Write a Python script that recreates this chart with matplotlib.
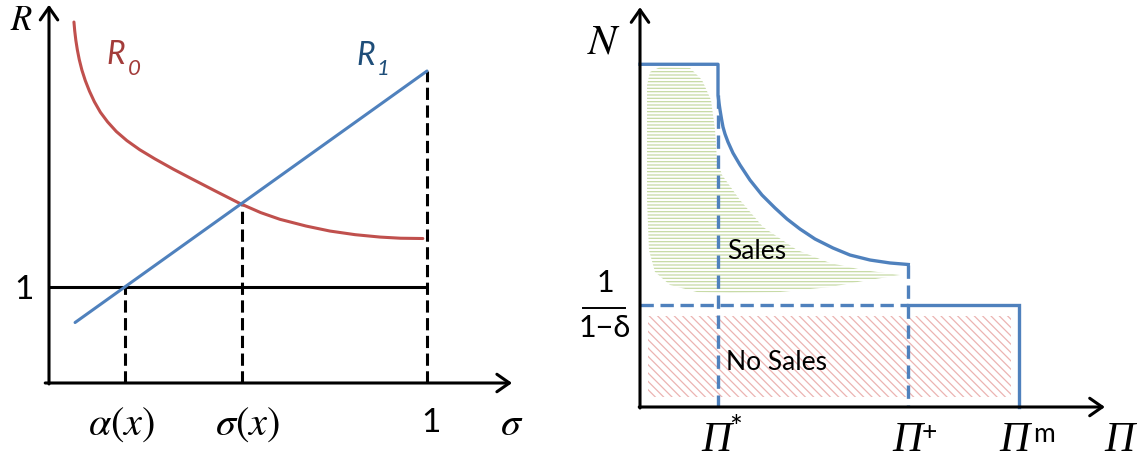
import matplotlib
matplotlib.use("Agg")
import matplotlib.pyplot as plt

plt.rcParams['mathtext.fontset'] = 'stix'
plt.rcParams['hatch.linewidth'] = 0.9

# ---- left panel data (sigma on x, R on y) ----
alpha_x = 0.20
sigma_x = 0.51
sigma_one = 1.0
r1_sigma = [0.069, 1.0]
r1_vals = [0.63, 3.25]
r0_sigma = [0.066, 0.068, 0.071, 0.075, 0.080, 0.087, 0.096, 0.107, 0.120,
            0.136, 0.155, 0.178, 0.206, 0.24, 0.28, 0.33, 0.381, 0.44,
            0.505, 0.56, 0.611, 0.68, 0.743, 0.81, 0.876, 0.93, 0.989]
r0_vals = [3.76, 3.67, 3.57, 3.47, 3.37, 3.26, 3.15, 3.04, 2.93,
           2.82, 2.72, 2.62, 2.525, 2.43, 2.335, 2.225, 2.12, 2.0,
           1.87, 1.775, 1.705, 1.635, 1.583, 1.545, 1.52, 1.508, 1.505]
r_at_sigma = 1.87

# ---- right panel data (Pi on x, N on y) ----
pi_star = 1.0
pi_plus = 3.44
pi_m = 4.86
n_top = 3.36
n_floor = 1.0
n_curve_pi = [1.0, 1.0, 1.013, 1.026, 1.045, 1.064, 1.090, 1.128, 1.192,
              1.282, 1.410, 1.564, 1.731, 1.885, 2.051, 2.244, 2.474, 2.692,
              2.949, 3.205, 3.44]
n_curve_n = [3.36, 3.059, 2.980, 2.912, 2.824, 2.745, 2.676, 2.598, 2.490,
             2.373, 2.225, 2.078, 1.951, 1.843, 1.745, 1.647, 1.559, 1.490,
             1.441, 1.412, 1.397]
sales_pi = [0.128, 0.256, 0.641, 0.795, 0.910, 0.962, 0.987, 1.051, 1.282,
            1.577, 2.013, 2.436, 2.859, 3.333, 2.859, 2.436, 1.795, 1.154,
            0.731, 0.385, 0.192, 0.115, 0.090, 0.090, 0.090]
sales_n = [3.284, 3.333, 3.324, 3.206, 3.010, 2.716, 2.422, 2.275, 2.029,
           1.765, 1.539, 1.412, 1.343, 1.294, 1.235, 1.176, 1.127, 1.118,
           1.127, 1.196, 1.324, 1.539, 2.029, 2.814, 3.157]
nosales_pi = [0.10, 4.76]
nosales_n = [0.10, 0.89]
pi_sups = ['*', '+', 'm']

BLUE = '#4f81bd'
RED = '#c0504d'

fig = plt.figure(figsize=(11.4, 4.62), dpi=100)

arrow = dict(arrowstyle='->,head_length=0.5,head_width=0.35', lw=2.2,
             color='black', shrinkA=0, shrinkB=0, mutation_scale=18)

# ================= left =================
ax1 = fig.add_axes([0, 0, 560 / 1140, 1])
ax1.set_xlim(-49 / 378, 511 / 378)
ax1.set_ylim(-79 / 96, 383 / 96)
ax1.axis('off')

ax1.annotate('', xy=(0, 3.94), xytext=(0, -0.01), arrowprops=arrow)
ax1.annotate('', xy=(1.225, 0), xytext=(-0.01, 0), arrowprops=arrow)

ax1.plot([0, sigma_one], [1, 1], color='black', lw=2.2, solid_capstyle='butt')
for xv, top in [(alpha_x, 1.0), (sigma_x, r_at_sigma), (sigma_one, r1_vals[1])]:
    ax1.plot([xv, xv], [0, top], color='black', lw=2.2, dashes=(4, 1.8))

ax1.plot(r0_sigma, r0_vals, color=RED, lw=2.2, solid_capstyle='round',
         solid_joinstyle='round')
ax1.plot(r1_sigma, r1_vals, color=BLUE, lw=2.2, solid_capstyle='round')

ax1.text(-0.074, 3.78, r'$R$', fontsize=25, ha='center', va='center')
ax1.text(0.177, 3.42, 'R', fontsize=23, style='italic', family='Lato',
         color='#a33c3a', ha='center', va='center')
ax1.text(0.226, 3.27, '0', fontsize=16, style='italic', family='Lato',
         color='#a33c3a', ha='center', va='center')
ax1.text(0.839, 3.41, 'R', fontsize=23, style='italic', family='Lato',
         color='#1f4e79', ha='center', va='center')
ax1.text(0.885, 3.27, '1', fontsize=16, style='italic', family='Lato',
         color='#1f4e79', ha='center', va='center')

ax1.text(-0.066, 0.97, '1', fontsize=24, family='Lato', ha='center', va='center')
ax1.text(alpha_x - 0.007, -0.43, r'$\alpha(x)$', fontsize=29, ha='center', va='center')
ax1.text(sigma_x + 0.014, -0.43, r'$\sigma(x)$', fontsize=29, ha='center', va='center')
ax1.text(sigma_one + 0.011, -0.42, '1', fontsize=24, family='Lato', ha='center', va='center')
ax1.text(1.225, -0.43, r'$\sigma$', fontsize=29, ha='center', va='center')

# ================= right =================
ax2 = fig.add_axes([560 / 1140, 0, 580 / 1140, 1])
ax2.set_xlim(-80 / 78, 500 / 78)
ax2.set_ylim(-55 / 102, 407 / 102)
ax2.axis('off')

ax2.fill(sales_pi, sales_n, facecolor='none', edgecolor='#c6daa4', lw=0,
         hatch='-----')
ax2.fill_between(nosales_pi, nosales_n[0], nosales_n[1], facecolor='none',
                 edgecolor='#ecb4b2', lw=0, hatch='\\\\\\\\')

ax2.annotate('', xy=(0, 3.92), xytext=(0, -0.01), arrowprops=arrow)
ax2.annotate('', xy=(5.96, 0), xytext=(-0.01, 0), arrowprops=arrow)

ax2.plot([0] + n_curve_pi, [n_top] + n_curve_n, color=BLUE, lw=2.4,
         solid_joinstyle='round')
ax2.plot([pi_plus, pi_m, pi_m], [n_floor, n_floor, 0], color=BLUE, lw=2.4,
         solid_joinstyle='miter')
ax2.plot([0, pi_plus], [n_floor, n_floor], color=BLUE, lw=2.4, dashes=(4, 2))
ax2.plot([pi_star, pi_star], [n_curve_n[1], 0], color=BLUE, lw=2.4, dashes=(4, 2))
ax2.plot([pi_plus, pi_plus], [n_curve_n[-1], 0], color=BLUE, lw=2.4, dashes=(4, 2))

ax2.text(1.5, 1.52, 'Sales', fontsize=19, family='Lato', ha='center', va='center')
ax2.text(1.756, 0.44, 'No Sales', fontsize=19, family='Lato', ha='center', va='center')

ax2.text(-0.46, 3.58, r'$N$', fontsize=31, ha='center', va='center')
ax2.text(-0.449, 1.216, '1', fontsize=22, family='Lato', ha='center', va='center')
ax2.plot([-0.73, -0.19], [0.97, 0.97], color='black', lw=1.4, clip_on=False)
ax2.text(-0.449, 0.775, '1\u2212\u03b4', fontsize=22, family='Lato',
         ha='center', va='center')

# Pi tick labels: italic Pi plus a small superscript
pi_label_x = [pi_star - 0.026, pi_plus - 0.017, pi_m - 0.06]
sup_dx = [0.25, 0.29, 0.38]
sup_y = [-0.21, -0.25, -0.27]
sup_size = [22, 19, 19]
for xv, sup, dx, sy, fs in zip(pi_label_x, pi_sups, sup_dx, sup_y, sup_size):
    ax2.text(xv, -0.33, '\u03a0', fontsize=30, style='italic',
             family='Liberation Serif', ha='center', va='center')
    ax2.text(xv + dx, sy, sup, fontsize=fs, family='Lato', ha='center', va='center')
ax2.text(6.15, -0.33, '\u03a0', fontsize=30, style='italic',
         family='Liberation Serif', ha='center', va='center')

fig.savefig('out.png', dpi=100)
